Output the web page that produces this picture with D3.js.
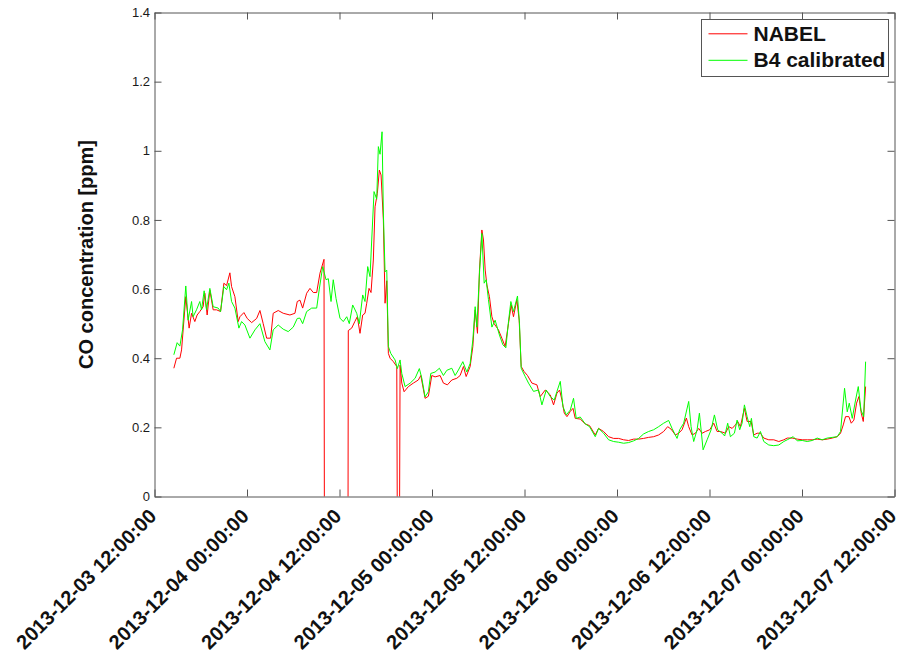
<!DOCTYPE html>
<html>
<head>
<meta charset="utf-8">
<script src="https://cdn.jsdelivr.net/npm/d3@7"></script>
<style>
  body { margin: 0; background: #fff; }
  svg { display: block; font-family: "Liberation Sans", Arial, sans-serif; }
</style>
</head>
<body>
<div id="chart"></div>
<script>
// CO concentration, NABEL reference vs calibrated B4 sensor

// Start of the x axis, hours in the data are counted from here
var startTime = Date.UTC(2013, 11, 3, 12, 0, 0);
var endTime = Date.UTC(2013, 11, 7, 12, 0, 0);

// Missing NABEL samples are flagged with a negative value
var MISSING = -1;

// [hours after start, ppm]
var nabelData = [
  [2.51, 0.371], [2.86, 0.40], [3.29, 0.40], [3.51, 0.424], [4.06, 0.578], [4.49, 0.487],
  [4.81, 0.53], [5.23, 0.506], [5.53, 0.525], [5.88, 0.535], [6.31, 0.549], [6.53, 0.588],
  [6.83, 0.525], [7.18, 0.597], [7.61, 0.54], [8.05, 0.54], [8.57, 0.535], [9.0, 0.617],
  [9.35, 0.61], [9.78, 0.647], [10.0, 0.607], [10.43, 0.578], [10.86, 0.506], [11.08, 0.52],
  [11.6, 0.532], [12.03, 0.515], [12.6, 0.503], [13.25, 0.515], [13.68, 0.538], [14.1, 0.50],
  [14.55, 0.458], [15.06, 0.458], [15.4, 0.53], [16.05, 0.538], [16.7, 0.53], [17.57, 0.525],
  [18.22, 0.53], [18.52, 0.564], [18.87, 0.568], [19.22, 0.545], [19.74, 0.588], [20.17, 0.602],
  [20.6, 0.59], [21.04, 0.59], [21.47, 0.646], [21.99, 0.686], [22.1, MISSING], [25.05, MISSING],
  [25.14, 0.48], [25.58, 0.487], [26.01, 0.507], [26.31, 0.52], [26.66, 0.472], [27.01, 0.525],
  [27.31, 0.53], [27.53, 0.559], [27.83, 0.602], [28.09, 0.59], [28.39, 0.684], [28.61, 0.838],
  [28.91, 0.877], [29.17, 0.944], [29.39, 0.93], [29.69, 0.80], [29.91, 0.559], [30.13, 0.624],
  [30.34, 0.414], [30.56, 0.40], [30.99, 0.39], [31.43, 0.376], [31.64, MISSING], [31.86, 0.38],
  [32.08, 0.328], [32.38, 0.303], [32.94, 0.318], [33.58, 0.328], [34.23, 0.337], [34.55, 0.35],
  [35.1, 0.284], [35.53, 0.29], [35.97, 0.35], [36.4, 0.346], [37.05, 0.35], [37.48, 0.328],
  [38.0, 0.323], [38.57, 0.337], [39.22, 0.342], [39.65, 0.35], [40.08, 0.376], [40.43, 0.347],
  [40.95, 0.376], [41.3, 0.434], [41.6, 0.54], [41.9, 0.472], [42.16, 0.655], [42.47, 0.771],
  [42.68, 0.742], [42.9, 0.655], [43.12, 0.612], [43.45, 0.578], [43.77, 0.52], [44.06, 0.50],
  [44.62, 0.482], [45.06, 0.458], [45.49, 0.434], [45.92, 0.50], [46.27, 0.554], [46.57, 0.52],
  [47.01, 0.569], [47.31, 0.51], [47.57, 0.376], [47.96, 0.361], [48.39, 0.35], [48.96, 0.328],
  [49.61, 0.323], [50.04, 0.289], [50.69, 0.308], [51.34, 0.294], [51.77, 0.265], [52.21, 0.299],
  [52.55, 0.308], [52.86, 0.279], [53.16, 0.241], [53.51, 0.231], [53.94, 0.246], [54.29, 0.255],
  [54.58, 0.226], [55.23, 0.224], [55.88, 0.21], [56.44, 0.205], [57.18, 0.178], [57.61, 0.197],
  [58.26, 0.188], [58.91, 0.173], [59.56, 0.168], [60.21, 0.168], [60.86, 0.164], [61.51, 0.162],
  [62.16, 0.166], [62.81, 0.166], [63.45, 0.168], [64.1, 0.171], [64.75, 0.173], [65.4, 0.178],
  [66.05, 0.188], [66.57, 0.202], [67.01, 0.195], [67.57, 0.178], [68.0, 0.183], [68.44, 0.193],
  [69.0, 0.227], [69.3, 0.202], [69.74, 0.178], [70.17, 0.183], [70.6, 0.197], [71.04, 0.183],
  [71.47, 0.188], [72.03, 0.193], [72.55, 0.212], [72.99, 0.188], [73.42, 0.188], [74.07, 0.183],
  [74.49, 0.202], [74.94, 0.197], [75.36, 0.207], [75.66, 0.217], [76.01, 0.202], [76.53, 0.255],
  [76.88, 0.217], [77.4, 0.217], [77.74, 0.178], [78.18, 0.183], [78.61, 0.183], [79.04, 0.169],
  [79.69, 0.164], [80.34, 0.164], [80.99, 0.159], [81.64, 0.164], [82.08, 0.169], [82.73, 0.169],
  [83.38, 0.166], [84.03, 0.164], [84.68, 0.164], [85.32, 0.164], [85.97, 0.166], [86.62, 0.164],
  [87.27, 0.166], [87.92, 0.169], [88.57, 0.173], [89.0, 0.183], [89.35, 0.207], [89.65, 0.231],
  [90.08, 0.231], [90.39, 0.212], [90.73, 0.221], [91.08, 0.27], [91.38, 0.289], [91.69, 0.241],
  [91.95, 0.217], [92.25, 0.318]
];

var b4Data = [
  [2.51, 0.41], [2.94, 0.445], [3.29, 0.435], [3.64, 0.482], [4.06, 0.609], [4.36, 0.51],
  [4.81, 0.564], [5.01, 0.52], [5.45, 0.54], [5.88, 0.564], [6.1, 0.54], [6.44, 0.595],
  [6.75, 0.54], [7.18, 0.602], [7.61, 0.549], [8.26, 0.545], [8.57, 0.535], [9.0, 0.607],
  [9.35, 0.598], [9.65, 0.617], [10.0, 0.564], [10.43, 0.545], [10.95, 0.487], [11.3, 0.506],
  [11.73, 0.496], [12.38, 0.458], [13.03, 0.482], [13.68, 0.50], [14.32, 0.448], [14.97, 0.424],
  [15.4, 0.482], [16.05, 0.496], [16.7, 0.484], [17.35, 0.477], [18.0, 0.49], [18.52, 0.515],
  [18.87, 0.516], [19.22, 0.50], [19.74, 0.535], [20.39, 0.545], [21.04, 0.545], [21.38, 0.60],
  [21.82, 0.665], [22.25, 0.627], [22.55, 0.63], [22.9, 0.564], [23.19, 0.627], [23.55, 0.573],
  [24.06, 0.516], [24.49, 0.506], [24.94, 0.52], [25.27, 0.50], [25.71, 0.554], [26.23, 0.53],
  [26.57, 0.50], [27.01, 0.583], [27.31, 0.564], [27.66, 0.665], [27.96, 0.636], [28.18, 0.742],
  [28.48, 0.882], [28.83, 0.86], [29.04, 1.012], [29.26, 0.99], [29.52, 1.055], [29.69, 0.82],
  [29.91, 0.65], [30.13, 0.655], [30.34, 0.434], [30.65, 0.414], [31.21, 0.395], [31.51, 0.37],
  [31.86, 0.395], [32.08, 0.356], [32.51, 0.318], [33.17, 0.328], [33.81, 0.342], [34.36, 0.37],
  [34.68, 0.342], [35.1, 0.288], [35.53, 0.303], [35.84, 0.356], [36.4, 0.36], [36.96, 0.371],
  [37.48, 0.35], [37.92, 0.365], [38.57, 0.371], [39.0, 0.35], [39.43, 0.366], [40.0, 0.39],
  [40.52, 0.36], [40.95, 0.385], [41.3, 0.453], [41.6, 0.549], [41.82, 0.49], [42.16, 0.646],
  [42.47, 0.761], [42.77, 0.617], [43.03, 0.627], [43.32, 0.57], [43.77, 0.49], [44.19, 0.51],
  [44.75, 0.467], [45.19, 0.439], [45.58, 0.43], [45.92, 0.505], [46.23, 0.564], [46.57, 0.535],
  [47.09, 0.58], [47.35, 0.50], [47.57, 0.371], [48.09, 0.347], [48.52, 0.328], [49.17, 0.304],
  [49.82, 0.308], [50.26, 0.265], [50.82, 0.308], [51.34, 0.289], [51.86, 0.279], [52.21, 0.304],
  [52.64, 0.333], [52.99, 0.26], [53.42, 0.236], [53.94, 0.25], [54.36, 0.284], [54.71, 0.226],
  [55.23, 0.23], [55.88, 0.21], [56.44, 0.202], [57.18, 0.173], [57.61, 0.197], [58.26, 0.183],
  [58.91, 0.164], [59.56, 0.159], [60.21, 0.157], [60.86, 0.154], [61.51, 0.156], [62.16, 0.161],
  [62.81, 0.168], [63.45, 0.181], [64.1, 0.188], [64.75, 0.193], [65.4, 0.202], [66.05, 0.212],
  [66.7, 0.22], [67.14, 0.197], [67.79, 0.168], [68.13, 0.193], [68.65, 0.212], [69.3, 0.275],
  [69.61, 0.202], [69.95, 0.159], [70.39, 0.193], [70.69, 0.241], [71.17, 0.135], [71.69, 0.164],
  [72.21, 0.193], [72.64, 0.236], [73.06, 0.193], [73.64, 0.183], [73.97, 0.175], [74.36, 0.212],
  [74.71, 0.173], [75.23, 0.183], [75.58, 0.221], [75.92, 0.193], [76.23, 0.212], [76.53, 0.265],
  [76.88, 0.231], [77.22, 0.202], [77.44, 0.226], [77.74, 0.173], [78.18, 0.169], [78.61, 0.188],
  [79.04, 0.159], [79.69, 0.149], [80.34, 0.147], [80.99, 0.149], [81.64, 0.159], [82.08, 0.164],
  [82.86, 0.173], [83.38, 0.161], [84.03, 0.162], [84.68, 0.159], [85.32, 0.162], [85.97, 0.169],
  [86.62, 0.164], [87.27, 0.169], [87.92, 0.171], [88.57, 0.173], [89.0, 0.188], [89.52, 0.313],
  [89.87, 0.245], [90.13, 0.27], [90.52, 0.226], [90.95, 0.279], [91.3, 0.318], [91.65, 0.25],
  [92.0, 0.231], [92.25, 0.39]
];

var seriesNames = ["NABEL", "B4 calibrated"];
var seriesColors = ["#ff0000", "#00ff00"];
var yTicks = [0, 0.2, 0.4, 0.6, 0.8, 1, 1.2, 1.4];

// svg size and margins
var svgWidth = 899;
var svgHeight = 662;
var margin = { top: 12.5, left: 154.5, right: 4.5, bottom: 165.5 };
var chartWidth = svgWidth - margin.left - margin.right;
var chartHeight = svgHeight - margin.top - margin.bottom;

var svg = d3.select("#chart")
  .append("svg")
  .attr("width", svgWidth)
  .attr("height", svgHeight);

var chartGroup = svg.append("g")
  .attr("transform", `translate(${margin.left}, ${margin.top})`);

// scales
var xScale = d3.scaleUtc()
  .domain([new Date(startTime), new Date(endTime)])
  .range([0, chartWidth]);

var yScale = d3.scaleLinear()
  .domain([0, 1.4])
  .range([chartHeight, 0]);

var toDate = h => new Date(startTime + h * 3600 * 1000);
var xTickValues = d3.utcHour.every(12).range(new Date(startTime), new Date(endTime + 1));
var fmt = d3.utcFormat("%Y-%m-%d %H:%M:%S");

// clip the lines to the axes box, like matlab does
chartGroup.append("clipPath")
  .attr("id", "plot-clip")
  .append("rect")
  .attr("width", chartWidth)
  .attr("height", chartHeight);

var line = d3.line()
  .x(d => xScale(toDate(d[0])))
  .y(d => yScale(d[1]));

var lines = chartGroup.append("g").attr("clip-path", "url(#plot-clip)");
[nabelData, b4Data].forEach((data, i) => {
  lines.append("path")
    .datum(data)
    .attr("d", line)
    .attr("fill", "none")
    .attr("stroke", seriesColors[i])
    .attr("stroke-width", 1);
});

// axes: ticks pointing inward on all four sides
var axisColor = "#555";
var tickLen = 7;

var xAxisBottom = chartGroup.append("g")
  .attr("transform", `translate(0, ${chartHeight})`)
  .call(d3.axisBottom(xScale).tickValues(xTickValues).tickSizeInner(-tickLen).tickSizeOuter(0).tickFormat(""));
var xAxisTop = chartGroup.append("g")
  .call(d3.axisTop(xScale).tickValues(xTickValues).tickSizeInner(-tickLen).tickSizeOuter(0).tickFormat(""));
var yAxisLeft = chartGroup.append("g")
  .call(d3.axisLeft(yScale).tickValues(yTicks).tickSizeInner(-tickLen).tickSizeOuter(0)
    .tickFormat(d3.format("~g")));
var yAxisRight = chartGroup.append("g")
  .attr("transform", `translate(${chartWidth}, 0)`)
  .call(d3.axisRight(yScale).tickValues(yTicks).tickSizeInner(-tickLen).tickSizeOuter(0).tickFormat(""));

[xAxisBottom, xAxisTop, yAxisLeft, yAxisRight].forEach(g => {
  g.select(".domain").attr("stroke", axisColor);
  g.selectAll(".tick line").attr("stroke", axisColor);
});

yAxisLeft.selectAll(".tick text")
  .attr("x", -4.5)
  .attr("font-size", "13px")
  .attr("font-family", "Liberation Sans, Arial, sans-serif")
  .attr("fill", "#1a1a1a");

// rotated date labels under the x axis
chartGroup.selectAll(".xlabel")
  .data(xTickValues)
  .enter()
  .append("text")
  .attr("class", "xlabel")
  .attr("transform", d => `translate(${xScale(d) + 3}, ${chartHeight + 21})rotate(-45)`)
  .attr("text-anchor", "end")
  .attr("font-size", "20px")
  .attr("font-weight", "bold")
  .attr("fill", "#111")
  .text(d => fmt(d));

// y axis title
chartGroup.append("text")
  .attr("transform", `translate(${93 - margin.left}, ${chartHeight / 2})rotate(-90)`)
  .attr("text-anchor", "middle")
  .attr("font-size", "20px")
  .attr("font-weight", "bold")
  .attr("fill", "#111")
  .text("CO concentration [ppm]");

// legend
var legend = svg.append("g").attr("transform", "translate(701.5, 19.5)");
legend.append("rect")
  .attr("width", 187)
  .attr("height", 57)
  .attr("fill", "#fff")
  .attr("stroke", axisColor);

seriesNames.forEach((name, i) => {
  var ly = 14.3 + i * 26.5;
  legend.append("line")
    .attr("x1", 7).attr("x2", 46)
    .attr("y1", ly).attr("y2", ly)
    .attr("stroke", seriesColors[i])
    .attr("stroke-width", 1);
  legend.append("text")
    .attr("x", 52)
    .attr("y", ly + 7)
    .attr("font-size", "21px")
    .attr("font-weight", "bold")
    .attr("fill", "#111")
    .text(name);
});
</script>
</body>
</html>
